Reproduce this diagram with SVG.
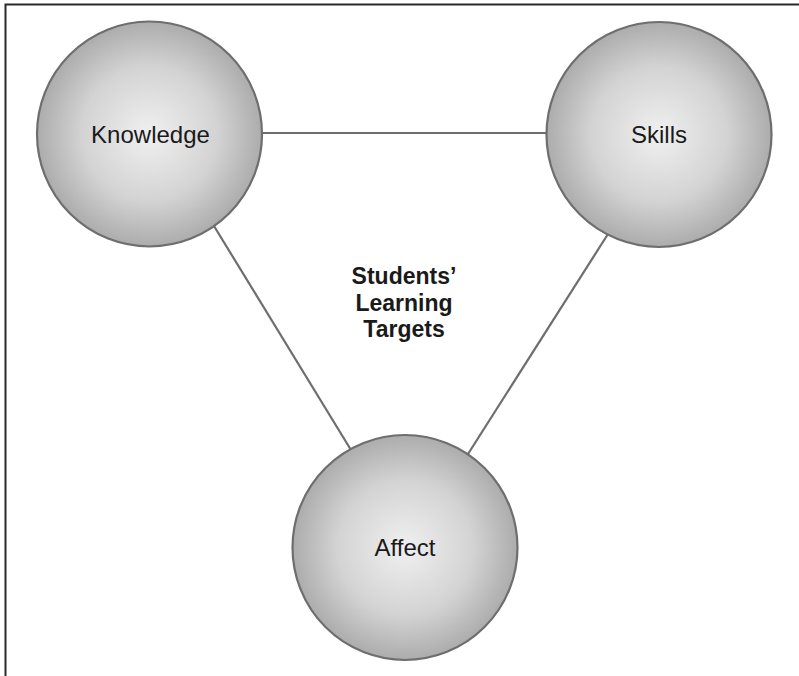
<svg xmlns="http://www.w3.org/2000/svg" width="799" height="676" viewBox="0 0 799 676">
  <style>
    .frame { fill: none; stroke: #2a2a2a; stroke-width: 2; }
    .link { stroke: #6e6e6e; stroke-width: 2.2; fill: none; }
    .bubble { fill: url(#shade); stroke: #6e6e6e; stroke-width: 2.2; }
    .label { font-family: "Liberation Sans", Arial, sans-serif; font-size: 24px; fill: #1a1a1a; text-anchor: middle; }
    .title { font-family: "Liberation Sans", Arial, sans-serif; font-size: 23px; font-weight: bold; fill: #1a1a1a; text-anchor: middle; }
  </style>
  <defs>
    <radialGradient id="shade" cx="50%" cy="50%" r="50%">
      <stop offset="0" stop-color="#f0f0f0"/>
      <stop offset="0.6" stop-color="#d3d3d4"/>
      <stop offset="1" stop-color="#acacad"/>
    </radialGradient>
  </defs>

  <rect width="799" height="676" fill="#ffffff"/>
  <!-- open frame: top and left edges only -->
  <path class="frame" d="M5.5 676 V4.5 H799"/>

  <g id="connectors">
    <line class="link" x1="262" y1="133" x2="546" y2="133"/>
    <line class="link" x1="214" y1="226" x2="351" y2="450"/>
    <line class="link" x1="608" y1="234" x2="468" y2="454"/>
  </g>

  <g id="knowledge">
    <circle class="bubble" cx="149.5" cy="134" r="112.5"/>
    <text class="label" x="150.5" y="142.5">Knowledge</text>
  </g>

  <g id="skills">
    <circle class="bubble" cx="659" cy="134.5" r="112.5"/>
    <text class="label" x="659" y="143">Skills</text>
  </g>

  <g id="affect">
    <circle class="bubble" cx="405" cy="547.5" r="112.5"/>
    <text class="label" x="405" y="556">Affect</text>
  </g>

  <g id="center-title">
    <text class="title" x="404" y="284">Students’</text>
    <text class="title" x="404" y="310.5">Learning</text>
    <text class="title" x="404" y="337">Targets</text>
  </g>
</svg>
